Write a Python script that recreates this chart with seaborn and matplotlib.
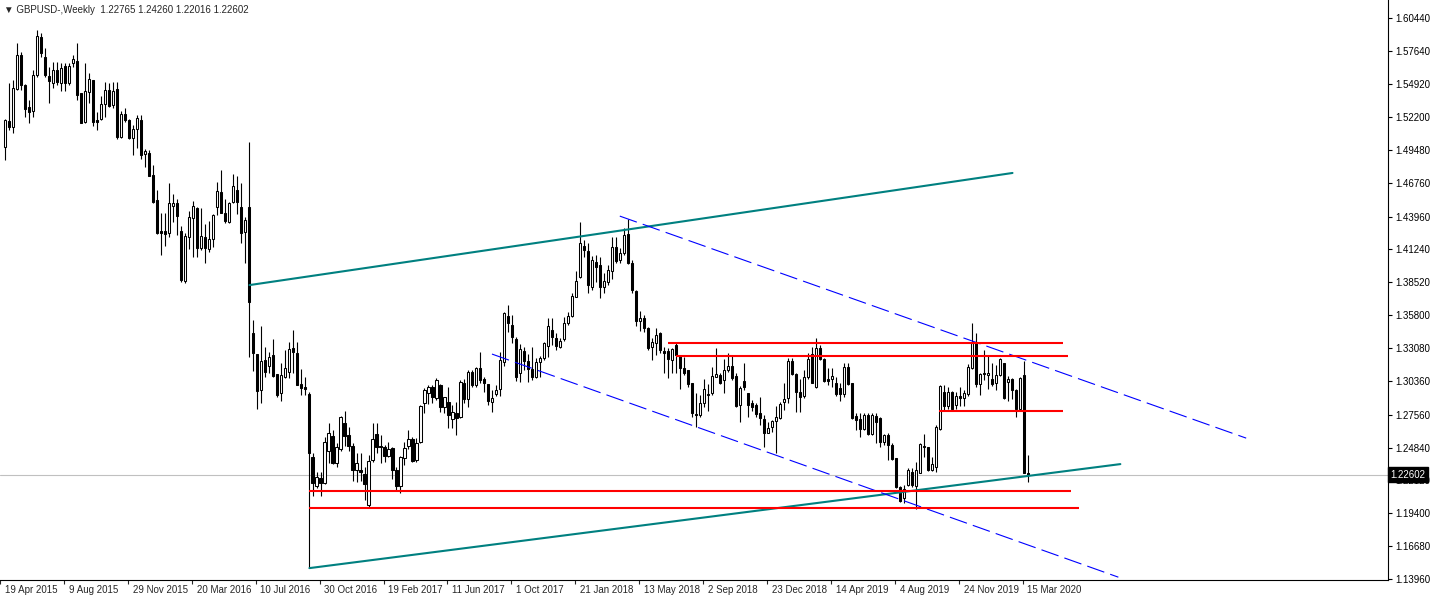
import numpy as np
import pandas as pd
import matplotlib
matplotlib.use('Agg')
import matplotlib.pyplot as plt
import matplotlib.transforms as mtransforms
import seaborn as sns

# weekly GBPUSD bars, first bar = week of 19 Apr 2015, last = week of 15 Mar 2020
opens = [
    1.4970, 1.5190, 1.5140, 1.5455, 1.5733, 1.5485, 1.5300, 1.5270, 1.5565, 1.5880,
    1.5720, 1.5562, 1.5499, 1.5609, 1.5504, 1.5642, 1.5499, 1.5664, 1.5686, 1.5416,
    1.5181, 1.5430, 1.5526, 1.5195, 1.5201, 1.5327, 1.5443, 1.5319, 1.5449, 1.5057,
    1.5245, 1.5195, 1.5043, 1.5118, 1.5195, 1.4911, 1.4925, 1.4740, 1.4533, 1.4276,
    1.4276, 1.4257, 1.4486, 1.4505, 1.4276, 1.3865, 1.4223, 1.4381, 1.4464, 1.4132,
    1.4229, 1.4124, 1.4207, 1.4472, 1.4602, 1.4422, 1.4353, 1.4513, 1.4615, 1.4472,
    1.4270, 1.4473, 1.3429, 1.3258, 1.2960, 1.3209, 1.3159, 1.3250, 1.3093, 1.2933,
    1.3065, 1.3112, 1.3305, 1.3264, 1.3010, 1.2988, 1.2927, 1.2408, 1.2165, 1.2229,
    1.2193, 1.2458, 1.2579, 1.2353, 1.2469, 1.2684, 1.2588, 1.2497, 1.2298, 1.2298,
    1.2265, 1.2008, 1.2381, 1.2596, 1.2496, 1.2485, 1.2414, 1.2477, 1.2298, 1.2165,
    1.2394, 1.2496, 1.2552, 1.2380, 1.2532, 1.2850, 1.2938, 1.2988, 1.2891, 1.3001,
    1.2816, 1.2863, 1.2717, 1.2772, 1.2739, 1.3015, 1.2883, 1.3112, 1.3001, 1.3139,
    1.3048, 1.3010, 1.2863, 1.2927, 1.2966, 1.3195, 1.3573, 1.3498, 1.3379, 1.3098,
    1.3285, 1.3200, 1.3135, 1.3065, 1.3190, 1.3225, 1.3324, 1.3456, 1.3387, 1.3318,
    1.3379, 1.3517, 1.3572, 1.3732, 1.3892, 1.4152, 1.4113, 1.3815, 1.4022, 1.3995,
    1.3810, 1.3857, 1.3948, 1.4141, 1.4036, 1.4097, 1.4251, 1.4008, 1.3779, 1.3534,
    1.3553, 1.3470, 1.3319, 1.3352, 1.3429, 1.3285, 1.3285, 1.3208, 1.3332, 1.3241,
    1.3139, 1.3125, 1.3015, 1.2761, 1.2753, 1.2849, 1.2918, 1.2932, 1.3070, 1.3084,
    1.3043, 1.3125, 1.3158, 1.3076, 1.2836, 1.3037, 1.2932, 1.2849, 1.2836, 1.2767,
    1.2717, 1.2607, 1.2651, 1.2706, 1.2726, 1.2864, 1.2891, 1.3203, 1.3093, 1.2946,
    1.2910, 1.3065, 1.3258, 1.2982, 1.3305, 1.3214, 1.3049, 1.3049, 1.3015, 1.2974,
    1.2927, 1.3148, 1.3015, 1.2745, 1.2717, 1.2634, 1.2753, 1.2596, 1.2745, 1.2726,
    1.2532, 1.2588, 1.2505, 1.2394, 1.2160, 1.2063, 1.2173, 1.2283, 1.2165, 1.2275,
    1.2493, 1.2485, 1.2297, 1.2319, 1.2634, 1.2946, 1.2827, 1.2946, 1.2835, 1.2910,
    1.2895, 1.2926, 1.3139, 1.3352, 1.3009, 1.3103, 1.3084, 1.3048, 1.3015, 1.3084,
    1.3186, 1.3030, 1.3048, 1.2960, 1.2800, 1.3084, 1.22765,
]
highs = [
    1.5200, 1.5500, 1.5526, 1.5830, 1.5755, 1.5490, 1.5361, 1.5609, 1.5940, 1.5913,
    1.5788, 1.5637, 1.5678, 1.5678, 1.5664, 1.5664, 1.5664, 1.5733, 1.5830, 1.5420,
    1.5670, 1.5581, 1.5530, 1.5264, 1.5394, 1.5512, 1.5499, 1.5512, 1.5512, 1.5272,
    1.5292, 1.5201, 1.5154, 1.5240, 1.5240, 1.4952, 1.4947, 1.4822, 1.4615, 1.4422,
    1.4422, 1.4676, 1.4582, 1.4541, 1.4317, 1.4262, 1.4444, 1.4527, 1.4472, 1.4464,
    1.4334, 1.4359, 1.4415, 1.4684, 1.4781, 1.4541, 1.4519, 1.4748, 1.4731, 1.4676,
    1.4389, 1.5016, 1.3540, 1.3262, 1.3490, 1.3319, 1.3278, 1.3380, 1.3097, 1.3187,
    1.3291, 1.3360, 1.3457, 1.3360, 1.3131, 1.3065, 1.2946, 1.2440, 1.2284, 1.2284,
    1.2574, 1.2684, 1.2629, 1.2519, 1.2745, 1.2789, 1.2657, 1.2519, 1.2441, 1.2441,
    1.2325, 1.2422, 1.2684, 1.2684, 1.2587, 1.2505, 1.2532, 1.2491, 1.2325, 1.2414,
    1.2532, 1.2629, 1.2568, 1.2560, 1.2836, 1.2974, 1.3001, 1.3001, 1.3057, 1.3010,
    1.2905, 1.2982, 1.2836, 1.2863, 1.3043, 1.3048, 1.3126, 1.3126, 1.3153, 1.3277,
    1.3065, 1.3014, 1.2960, 1.3001, 1.3277, 1.3609, 1.3664, 1.3581, 1.3396, 1.3340,
    1.3320, 1.3260, 1.3320, 1.3225, 1.3245, 1.3360, 1.3553, 1.3553, 1.3429, 1.3387,
    1.3561, 1.3608, 1.3766, 1.3948, 1.4348, 1.4202, 1.4174, 1.4069, 1.4077, 1.4064,
    1.3926, 1.3995, 1.4229, 1.4224, 1.4133, 1.4298, 1.4373, 1.4036, 1.3788, 1.3615,
    1.3580, 1.3484, 1.3388, 1.3470, 1.3440, 1.3319, 1.3305, 1.3305, 1.3360, 1.3250,
    1.3230, 1.3130, 1.3021, 1.2932, 1.2918, 1.3048, 1.3010, 1.3153, 1.3305, 1.3098,
    1.3214, 1.3263, 1.3241, 1.3098, 1.2990, 1.3181, 1.2938, 1.2877, 1.2849, 1.2905,
    1.2753, 1.2698, 1.2715, 1.2828, 1.2864, 1.3015, 1.3222, 1.3222, 1.3100, 1.3049,
    1.3126, 1.3264, 1.3319, 1.3388, 1.3333, 1.3222, 1.3140, 1.3140, 1.3071, 1.3015,
    1.3187, 1.3181, 1.3015, 1.2773, 1.2767, 1.2767, 1.2773, 1.2767, 1.2767, 1.2740,
    1.2600, 1.2601, 1.2520, 1.2400, 1.2165, 1.2174, 1.2311, 1.2311, 1.2366, 1.2518,
    1.2595, 1.2490, 1.2408, 1.2670, 1.3001, 1.3001, 1.2987, 1.2954, 1.2946, 1.2985,
    1.2960, 1.3175, 1.3517, 1.3434, 1.3098, 1.3291, 1.3249, 1.3180, 1.3167, 1.3222,
    1.3186, 1.3075, 1.3056, 1.2965, 1.3064, 1.3202, 1.24260,
]
lows = [
    1.4865, 1.5110, 1.5090, 1.5443, 1.5443, 1.5223, 1.5173, 1.5223, 1.5554, 1.5719,
    1.5554, 1.5333, 1.5457, 1.5485, 1.5438, 1.5438, 1.5485, 1.5637, 1.5361, 1.5167,
    1.5167, 1.5333, 1.5145, 1.5112, 1.5195, 1.5223, 1.5300, 1.5292, 1.5035, 1.5043,
    1.5181, 1.5035, 1.4905, 1.4960, 1.4869, 1.4809, 1.4731, 1.4511, 1.4250, 1.4077,
    1.4152, 1.4229, 1.4353, 1.4243, 1.3856, 1.3843, 1.4124, 1.4058, 1.4063, 1.4119,
    1.4008, 1.4105, 1.4141, 1.4408, 1.4422, 1.4345, 1.4339, 1.4505, 1.4417, 1.4179,
    1.4014, 1.3231, 1.3120, 1.2800, 1.2855, 1.3071, 1.3104, 1.3065, 1.2905, 1.2872,
    1.3057, 1.3057, 1.3104, 1.2998, 1.2919, 1.2919, 1.1490, 1.2085, 1.2146, 1.2083,
    1.2182, 1.2359, 1.2350, 1.2320, 1.2458, 1.2497, 1.2458, 1.2209, 1.2201, 1.2209,
    1.2049, 1.1988, 1.2367, 1.2436, 1.2353, 1.2367, 1.2408, 1.2220, 1.2132, 1.2110,
    1.2339, 1.2469, 1.2367, 1.2367, 1.2524, 1.2772, 1.2844, 1.2850, 1.2877, 1.2781,
    1.2772, 1.2643, 1.2643, 1.2587, 1.2725, 1.2850, 1.2816, 1.2988, 1.2988, 1.3021,
    1.2946, 1.2836, 1.2781, 1.2910, 1.2910, 1.3159, 1.3443, 1.3346, 1.3037, 1.3030,
    1.3125, 1.3025, 1.3040, 1.3060, 1.3065, 1.3210, 1.3236, 1.3332, 1.3291, 1.3305,
    1.3368, 1.3498, 1.3561, 1.3727, 1.3884, 1.4064, 1.3766, 1.3788, 1.3857, 1.3719,
    1.3766, 1.3829, 1.3876, 1.4008, 1.4014, 1.4077, 1.4003, 1.3766, 1.3490, 1.3450,
    1.3440, 1.3291, 1.3208, 1.3250, 1.3263, 1.3103, 1.3056, 1.3103, 1.3103, 1.2965,
    1.3084, 1.2982, 1.2734, 1.2656, 1.2739, 1.2822, 1.2790, 1.2918, 1.3065, 1.3010,
    1.2932, 1.3112, 1.3043, 1.2822, 1.2698, 1.2960, 1.2739, 1.2789, 1.2734, 1.2670,
    1.2491, 1.2601, 1.2610, 1.2441, 1.2717, 1.2795, 1.2850, 1.3084, 1.2781, 1.2781,
    1.2891, 1.3049, 1.3015, 1.2974, 1.3209, 1.3029, 1.3002, 1.2988, 1.2911, 1.2872,
    1.2905, 1.3002, 1.2717, 1.2629, 1.2568, 1.2629, 1.2588, 1.2588, 1.2519, 1.2491,
    1.2505, 1.2381, 1.2381, 1.2146, 1.2036, 1.2022, 1.2165, 1.2159, 1.1972, 1.2270,
    1.2408, 1.2292, 1.2292, 1.2283, 1.2628, 1.2794, 1.2800, 1.2794, 1.2800, 1.2830,
    1.2830, 1.2910, 1.3131, 1.2982, 1.2918, 1.3042, 1.2965, 1.2993, 1.2960, 1.3075,
    1.2882, 1.2871, 1.2890, 1.2733, 1.2794, 1.2270, 1.22016,
]
closes = [
    1.5195, 1.5140, 1.5457, 1.5733, 1.5485, 1.5283, 1.5264, 1.5568, 1.5890, 1.5747,
    1.5568, 1.5518, 1.5609, 1.5512, 1.5623, 1.5504, 1.5642, 1.5700, 1.5402, 1.5173,
    1.5438, 1.5532, 1.5181, 1.5181, 1.5325, 1.5443, 1.5311, 1.5438, 1.5057, 1.5245,
    1.5195, 1.5043, 1.5123, 1.5210, 1.4905, 1.4938, 1.4735, 1.4519, 1.4257, 1.4262,
    1.4248, 1.4505, 1.4505, 1.4403, 1.3870, 1.4235, 1.4389, 1.4483, 1.4138, 1.4235,
    1.4132, 1.4207, 1.4408, 1.4610, 1.4428, 1.4362, 1.4505, 1.4649, 1.4519, 1.4257,
    1.4367, 1.3692, 1.3269, 1.2955, 1.3200, 1.3112, 1.3236, 1.3076, 1.2919, 1.3084,
    1.3140, 1.3297, 1.3278, 1.3002, 1.2974, 1.2966, 1.2441, 1.2193, 1.2237, 1.2193,
    1.2532, 1.2607, 1.2353, 1.2485, 1.2734, 1.2579, 1.2497, 1.2298, 1.2353, 1.2284,
    1.2182, 1.2375, 1.2552, 1.2491, 1.2491, 1.2414, 1.2469, 1.2298, 1.2165, 1.2408,
    1.2477, 1.2552, 1.2375, 1.2524, 1.2828, 1.2960, 1.2988, 1.2905, 1.3043, 1.2816,
    1.2899, 1.2753, 1.2781, 1.2725, 1.3023, 1.2883, 1.3112, 1.3001, 1.3139, 1.3043,
    1.3015, 1.2872, 1.2891, 1.2960, 1.3208, 1.3595, 1.3512, 1.3402, 1.3065, 1.3297,
    1.3200, 1.3135, 1.3065, 1.3190, 1.3225, 1.3350, 1.3490, 1.3396, 1.3324, 1.3365,
    1.3512, 1.3572, 1.3738, 1.3865, 1.4174, 1.4119, 1.3829, 1.4036, 1.3975, 1.3810,
    1.3862, 1.3953, 1.4141, 1.4030, 1.4097, 1.4243, 1.4008, 1.3788, 1.3534, 1.3553,
    1.3470, 1.3305, 1.3360, 1.3415, 1.3291, 1.3269, 1.3214, 1.3296, 1.3250, 1.3139,
    1.3103, 1.3010, 1.2772, 1.2750, 1.2855, 1.2965, 1.2927, 1.3076, 1.3092, 1.3015,
    1.3125, 1.3158, 1.3056, 1.2827, 1.2974, 1.2982, 1.2836, 1.2816, 1.2761, 1.2725,
    1.2601, 1.2643, 1.2706, 1.2734, 1.2844, 1.2883, 1.3203, 1.3093, 1.2946, 1.2905,
    1.3065, 1.3214, 1.3021, 1.3305, 1.3214, 1.3038, 1.3038, 1.3076, 1.2927, 1.2927,
    1.3148, 1.3010, 1.2726, 1.2712, 1.2634, 1.2753, 1.2596, 1.2753, 1.2698, 1.2532,
    1.2588, 1.2505, 1.2386, 1.2160, 1.2044, 1.2138, 1.2297, 1.2173, 1.2297, 1.2512,
    1.2490, 1.2297, 1.2347, 1.2656, 1.2993, 1.2827, 1.2946, 1.2800, 1.2910, 1.2895,
    1.2932, 1.3147, 1.3352, 1.3009, 1.3092, 1.3092, 1.3103, 1.3009, 1.3084, 1.3213,
    1.2891, 1.3050, 1.2960, 1.2800, 1.3056, 1.2275, 1.22602,
]

# bottom time scale: one label every 16 bars
date_labels = ['19 Apr 2015', '9 Aug 2015', '29 Nov 2015', '20 Mar 2016', '10 Jul 2016',
               '30 Oct 2016', '19 Feb 2017', '11 Jun 2017', '1 Oct 2017', '21 Jan 2018',
               '13 May 2018', '2 Sep 2018', '23 Dec 2018', '14 Apr 2019', '4 Aug 2019',
               '24 Nov 2019', '15 Mar 2020']
price_ticks = [1.60440, 1.57640, 1.54920, 1.52200, 1.49480, 1.46760, 1.43960, 1.41240,
               1.38520, 1.35800, 1.33080, 1.30360, 1.27560, 1.24840, 1.22120, 1.19400,
               1.16680, 1.13960]

# drawn objects (bar number, price)
teal_up_x = [61.2, 252.2]
teal_up_y = [1.3829, 1.4757]
teal_lo_x = [76.2, 279.2]
teal_lo_y = [1.1486, 1.2347]
blue_up_x = [153.9, 310.7]
blue_up_y = [1.4400, 1.2562]
blue_lo_x = [121.9, 278.7]
blue_lo_y = [1.3258, 1.1411]
red_levels = [1.3351, 1.3244, 1.2788, 1.2126, 1.1985]
red_start = [165.9, 167.9, 233.9, 76.1, 76.1]
red_end = [264.9, 266.2, 264.9, 266.9, 268.9]

weeks = pd.date_range('2015-04-19', periods=len(closes), freq='7D')
df = pd.DataFrame({'week': weeks, 'open': opens, 'high': highs, 'low': lows, 'close': closes})
df['bar'] = np.arange(len(df))

sns.set_style('white')
plt.rcParams['font.family'] = ['Liberation Sans', 'DejaVu Sans']
plt.rcParams['lines.scale_dashes'] = False

fig = plt.figure(figsize=(14.35, 6.02), dpi=100)
ax = fig.add_axes([0, 22 / 602, 1388 / 1435, 580 / 602])

# current price line
last = closes[-1]
ax.axhline(last, color='#c0c0c0', lw=0.8, zorder=1)

# candles
ax.vlines(df['bar'], df['low'], df['high'], color='black', lw=0.8, zorder=3)
up = df[df['close'] >= df['open']]
dn = df[df['close'] < df['open']]
ax.bar(up['bar'], up['close'] - up['open'], bottom=up['open'], width=0.55,
       color='white', edgecolor='black', lw=0.75, zorder=4)
ax.bar(dn['bar'], dn['close'] - dn['open'], bottom=dn['open'], width=0.55,
       color='black', edgecolor='black', lw=0.75, zorder=4)

# trend lines
teal = pd.DataFrame({'bar': teal_up_x + teal_lo_x, 'price': teal_up_y + teal_lo_y,
                     'line': ['a', 'a', 'b', 'b']})
sns.lineplot(data=teal, x='bar', y='price', units='line', estimator=None,
             color='#008080', lw=1.5, ax=ax, zorder=5)
blue = pd.DataFrame({'bar': blue_up_x + blue_lo_x, 'price': blue_up_y + blue_lo_y,
                     'line': ['a', 'a', 'b', 'b']})
sns.lineplot(data=blue, x='bar', y='price', units='line', estimator=None,
             color='#0000ff', lw=0.8, dashes=False, ax=ax, zorder=5)
for l in ax.get_lines()[-2:]:
    l.set_linestyle((0, (13, 4.5)))
ax.hlines(red_levels, red_start, red_end, color='#ff0000', lw=1.5, zorder=6)

ax.set_xlim(-0.825, 346.2)
ax.set_ylim(1.13876, 1.61889)
ax.set_xlabel('')
ax.set_ylabel('')

for s in ['left', 'top']:
    ax.spines[s].set_visible(False)
for s in ['right', 'bottom']:
    ax.spines[s].set_color('black')
    ax.spines[s].set_linewidth(0.8)

ax.yaxis.tick_right()
ax.set_yticks(price_ticks)
ax.set_yticklabels(['%.5f' % p for p in price_ticks])
ax.tick_params(axis='y', direction='out', length=3, width=0.8, pad=2,
               labelsize=7, colors='black', right=True, left=False)

tick_pos = [16 * k - 1.25 for k in range(len(date_labels))]
ax.set_xticks(tick_pos)
ax.set_xticklabels([])
ax.tick_params(axis='x', direction='out', length=3, width=0.8, bottom=True)
trans = mtransforms.blended_transform_factory(ax.transData, ax.transAxes)
for pos, lab in zip(tick_pos, date_labels):
    ax.text(pos + 1.2, -0.009, lab, transform=trans, ha='left', va='top', fontsize=7)

# price box on the right scale (covers part of the 1.22120 label, as in MT4)
ptrans = mtransforms.blended_transform_factory(ax.transAxes, ax.transData)
ax.text(1.0015, last, '%.5f' % last, transform=ptrans, ha='left', va='center',
        fontsize=7, color='white', clip_on=False, zorder=10,
        bbox=dict(boxstyle='square,pad=0.25', fc='black', ec='black'))

fig.text(4 / 1435, 1 - 10 / 602, '\u25bc GBPUSD-,Weekly  1.22765 1.24260 1.22016 1.22602',
         fontsize=7, va='center', ha='left')

fig.savefig('out.png', dpi=100)
